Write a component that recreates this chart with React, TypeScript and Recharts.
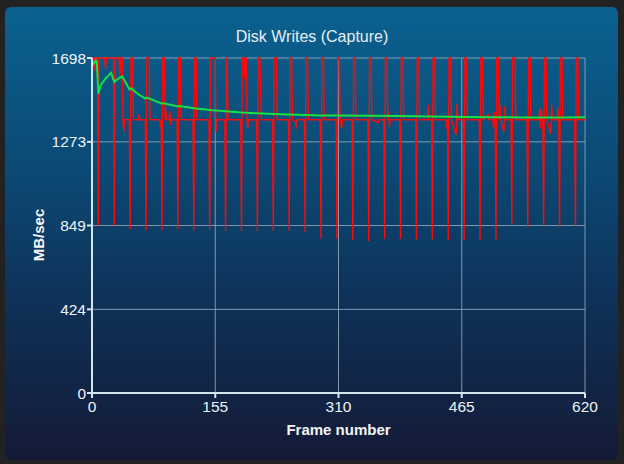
import { CartesianGrid, Line, LineChart, XAxis, YAxis } from "recharts";

const FRAME_TICKS = [0, 155, 310, 465, 620];
const RATE_TICKS = [0, 424, 849, 1273, 1698];

// [frame, MB/sec] (breakpoints only)
const WRITE_SAMPLES: [number, number][] = [
  [0, 1698], [3, 1698], [4, 1632], [5, 1698], [7, 1698], [8, 849], [9, 1698],
  [16, 1698], [17, 1640], [18, 1698], [27, 1698], [28, 849], [29, 1698],
  [34, 1698], [35, 1600], [36, 1698], [38, 1698], [39, 1385], [40, 1323], [41, 1385],
  [47, 1385], [48, 830], [49, 1698], [51, 1698], [52, 1385], [58, 1385], [59, 1411], [60, 1385],
  [67, 1385], [68, 825], [69, 1698], [72, 1698], [73, 1385], [85, 1385], [86, 1348], [87, 1385],
  [88, 825], [89, 1698], [91, 1698], [92, 1385], [93, 1433], [94, 1385], [97, 1385],
  [98, 1428], [99, 1360], [100, 1385], [107, 1385], [108, 830], [109, 1698], [111, 1698],
  [112, 1385], [127, 1385], [128, 825], [129, 1698], [131, 1698], [132, 1385],
  [147, 1385], [148, 830], [149, 1698], [155, 1698], [156, 1323], [157, 1385],
  [167, 1385], [168, 821], [169, 1698], [170, 1698], [171, 1385],
  [187, 1385], [188, 821], [189, 1698], [191, 1698], [192, 1593], [193, 1698], [194, 1698],
  [195, 1385], [196, 1343], [197, 1385], [207, 1385], [208, 821], [209, 1698], [211, 1698],
  [212, 1560], [213, 1385], [227, 1385], [228, 821], [229, 1698], [232, 1698], [233, 1385],
  [247, 1385], [248, 821], [249, 1698], [251, 1698], [252, 1385], [256, 1374], [257, 1340],
  [258, 1385], [267, 1385], [268, 815], [269, 1698], [271, 1698], [272, 1385],
  [287, 1385], [288, 782], [289, 1698], [291, 1698], [292, 1385],
  [307, 1385], [308, 782], [309, 1698], [311, 1698], [312, 1385], [314, 1340], [315, 1385],
  [327, 1385], [328, 775], [329, 1698], [331, 1698], [332, 1385],
  [347, 1385], [348, 770], [349, 1698], [351, 1698], [352, 1385], [360, 1370], [361, 1385],
  [367, 1385], [368, 780], [369, 1698], [371, 1698], [372, 1385], [373, 1428], [374, 1348],
  [375, 1385], [387, 1385], [388, 780], [389, 1698], [391, 1698], [392, 1385],
  [407, 1385], [408, 778], [409, 1698], [411, 1698], [412, 1385], [422, 1385], [423, 1461],
  [424, 1385], [427, 1385], [428, 778], [429, 1698], [431, 1698], [432, 1385],
  [445, 1385], [446, 1340], [447, 1385], [448, 775], [449, 1698], [451, 1698], [452, 1385],
  [458, 1309], [459, 1466], [460, 1385], [467, 1385], [468, 775], [469, 1698], [471, 1698],
  [472, 1385], [487, 1385], [488, 775], [489, 1698], [491, 1698], [492, 1385],
  [498, 1411], [499, 1385], [504, 1385], [505, 1343], [506, 1424], [507, 1385],
  [508, 775], [509, 1698], [511, 1698], [512, 1385], [513, 1458], [514, 1385],
  [518, 1323], [519, 1452], [520, 1385], [527, 1385], [528, 857], [529, 1698], [532, 1698],
  [533, 1385], [547, 1385], [548, 840], [549, 1698], [551, 1698], [552, 1385],
  [562, 1385], [563, 1441], [564, 1340], [565, 1441], [566, 1385], [567, 1385],
  [568, 849], [569, 1698], [571, 1698], [572, 1385], [577, 1314], [578, 1461], [579, 1385],
  [585, 1385], [586, 1444], [587, 1385], [588, 840], [589, 1698], [591, 1698], [592, 1385],
  [607, 1385], [608, 849], [609, 1698], [611, 1698], [612, 1385], [620, 1385],
];

// running average trace
const AVERAGE_SAMPLES: [number, number][] = [
  [0, 1690], [2, 1668], [5, 1686], [6, 1680], [8, 1517], [11, 1562], [17, 1593],
  [24, 1623], [28, 1576], [30, 1585], [38, 1605], [47, 1539], [49, 1545], [57, 1518],
  [67, 1492], [69, 1497], [88, 1466], [90, 1469], [108, 1452], [110, 1455], [128, 1443],
  [148, 1435], [168, 1428], [188, 1422], [208, 1418], [228, 1414], [248, 1411],
  [268, 1409], [288, 1407], [308, 1406], [348, 1405], [388, 1404], [428, 1401],
  [468, 1399], [508, 1398], [548, 1397], [588, 1397], [620, 1398],
];

const writes = WRITE_SAMPLES.map(([frame, mbps]) => ({ frame, mbps }));
const average = AVERAGE_SAMPLES.map(([frame, mbps]) => ({ frame, mbps }));

const FONT = "'Liberation Sans', Arial, sans-serif";
const AXIS = "#d6e6ee";
const GRID = "#9bb0c0";

export default function App() {
  return (
    <div
      style={{
        position: "absolute",
        left: 0,
        top: 0,
        width: 624,
        height: 464,
        background: "#222222",
        fontFamily: FONT,
      }}
    >
      <div
        style={{
          position: "absolute",
          left: 5,
          top: 7,
          width: 613,
          height: 453,
          borderRadius: 6,
          background:
            "linear-gradient(to bottom, #0a6190 0%, #0b4a75 35%, #0e3158 65%, #141a36 100%)",
        }}
      />
      <div
        style={{
          position: "absolute",
          left: 0,
          top: 28,
          width: 624,
          textAlign: "center",
          color: "#e8eef2",
          fontSize: 16,
        }}
      >
        Disk Writes (Capture)
      </div>
      <div
        style={{
          position: "absolute",
          left: 92,
          top: 421,
          width: 493,
          textAlign: "center",
          color: "#f2f6f8",
          fontSize: 15,
          fontWeight: "bold",
        }}
      >
        Frame number
      </div>
      <div
        style={{
          position: "absolute",
          left: 38,
          top: 235,
          transform: "translate(-50%, -50%) rotate(-90deg)",
          color: "#f2f6f8",
          fontSize: 15,
          fontWeight: "bold",
          whiteSpace: "nowrap",
        }}
      >
        MB/sec
      </div>
      <div style={{ position: "absolute", left: 0, top: 0 }}>
        <LineChart
          width={624}
          height={464}
          margin={{ top: 58, right: 39, bottom: 0, left: 0 }}
        >
          <CartesianGrid stroke={GRID} strokeOpacity={0.8} />
          <XAxis
            type="number"
            dataKey="frame"
            domain={[0, 620]}
            ticks={FRAME_TICKS}
            height={71}
            stroke={AXIS}
            strokeWidth={2}
            tickSize={5}
            tickMargin={3}
            tick={{ fill: "#eef3f6", fontSize: 15.5, fontFamily: FONT }}
            allowDuplicatedCategory={false}
          />
          <YAxis
            type="number"
            domain={[0, 1698]}
            ticks={RATE_TICKS}
            width={92}
            stroke={AXIS}
            strokeWidth={2}
            tickSize={5}
            tickMargin={1}
            tick={{ fill: "#eef3f6", fontSize: 15.5, fontFamily: FONT }}
          />
          <Line
            data={writes}
            dataKey="mbps"
            type="linear"
            stroke="#ff0a0a"
            strokeWidth={1.4}
            dot={false}
            isAnimationActive={false}
          />
          <Line
            data={average}
            dataKey="mbps"
            type="linear"
            stroke="#18e040"
            strokeWidth={2}
            dot={false}
            isAnimationActive={false}
          />
        </LineChart>
      </div>
    </div>
  );
}
